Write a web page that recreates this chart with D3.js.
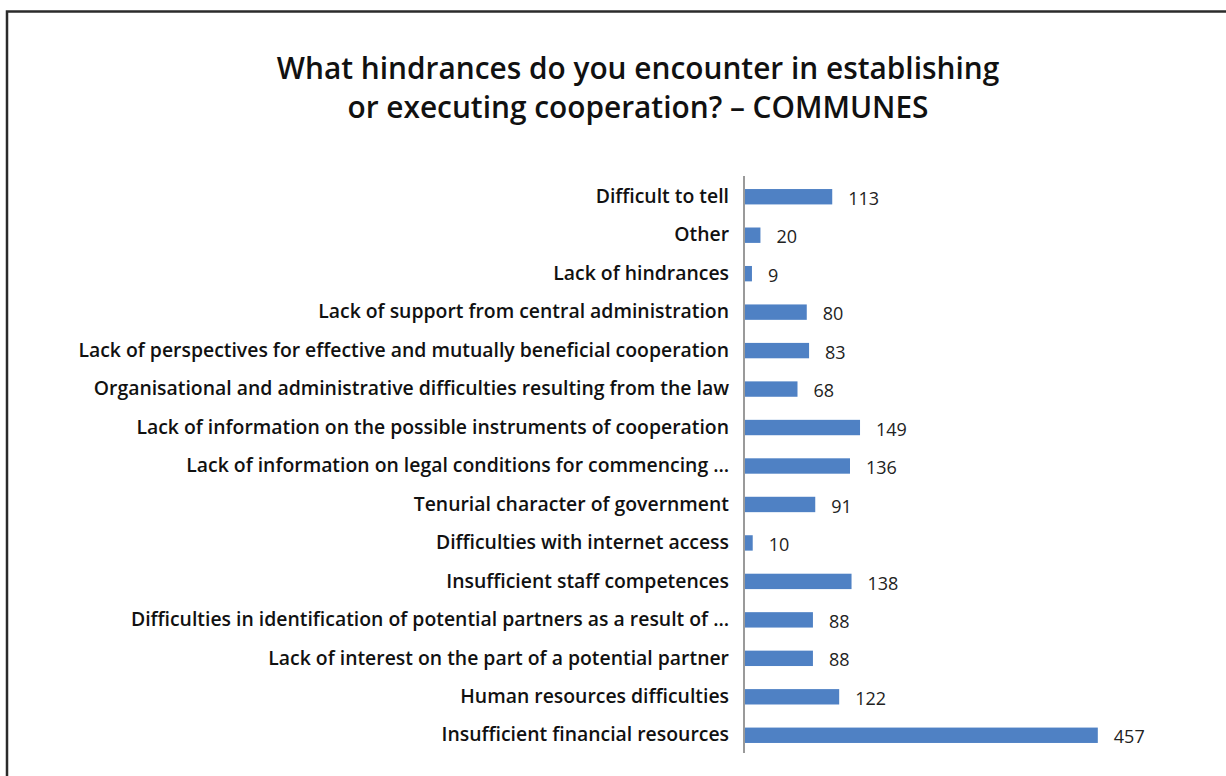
<!DOCTYPE html>
<html>
<head>
<meta charset="utf-8">
<script src="https://cdn.jsdelivr.net/npm/d3@7"></script>
<style>
  html, body { margin: 0; padding: 0; background: #fff; }
  svg { display: block; }
</style>
</head>
<body>
<svg id="chart" width="1226" height="776"></svg>
<script>
// Survey answers, top to bottom as listed on the chart
const categories = [
  "Difficult to tell",
  "Other",
  "Lack of hindrances",
  "Lack of support from central administration",
  "Lack of perspectives for effective and mutually beneficial cooperation",
  "Organisational and administrative difficulties resulting from the law",
  "Lack of information on the possible instruments of cooperation",
  "Lack of information on legal conditions for commencing …",
  "Tenurial character of government",
  "Difficulties with internet access",
  "Insufficient staff competences",
  "Difficulties in identification of potential partners as a result of …",
  "Lack of interest on the part of a potential partner",
  "Human resources difficulties",
  "Insufficient financial resources"
];
const counts = [113, 20, 9, 80, 83, 68, 149, 136, 91, 10, 138, 88, 88, 122, 457];
const titleLines = [
  "What hindrances do you encounter in establishing",
  "or executing cooperation? – COMMUNES"
];

const svg = d3.select("#chart");
const FONT = "'Open Sans', 'Noto Sans', sans-serif";

// Frame: top and left rules
svg.append("path")
  .attr("d", "M7,1226 V11.5 H1226")
  .attr("fill", "none")
  .attr("stroke", "#2b2b2b")
  .attr("stroke-width", 2.5);

// Fit a font size so a text run spans a target width
function fitSize(text, weight, target, base) {
  const t = svg.append("text")
    .attr("font-family", FONT)
    .attr("font-weight", weight)
    .attr("font-size", base)
    .text(text);
  const w = t.node().getComputedTextLength();
  t.remove();
  return base * target / w;
}

// Title
const titleSize = fitSize(titleLines[0], 600, 723, 26);
svg.append("g")
  .selectAll("text")
  .data(titleLines)
  .join("text")
  .attr("x", 638)
  .attr("y", (d, i) => 79 + i * 39)
  .attr("text-anchor", "middle")
  .attr("font-family", FONT)
  .attr("font-weight", 600)
  .attr("font-size", titleSize)
  .attr("fill", "#111")
  .text(d => d);

// Scales
const x0 = 745;
const x = d3.scaleLinear().domain([0, 500]).range([x0, x0 + 386]);
const y = d3.scaleBand()
  .domain(categories)
  .range([177.5, 754.5])
  .paddingInner(0.6)
  .paddingOuter(0.3);

// Bars
svg.append("g")
  .selectAll("rect")
  .data(categories)
  .join("rect")
  .attr("x", x(0))
  .attr("y", d => y(d))
  .attr("width", (d, i) => x(counts[i]) - x(0))
  .attr("height", y.bandwidth())
  .attr("fill", "#4f81c4");

// Category axis (labels only, no ticks)
const labelSize = fitSize(categories[4], 600, 651, 18);
const yAxis = d3.axisLeft(y).tickSize(0).tickPadding(15);
const ga = svg.append("g")
  .attr("transform", `translate(${x0 - 1},0)`)
  .call(yAxis);
ga.select(".domain")
  .attr("d", "M0,176V753")
  .attr("stroke", "#9a9a9a")
  .attr("stroke-width", 2);
ga.selectAll("text")
  .attr("font-family", FONT)
  .attr("font-weight", 600)
  .attr("font-size", labelSize)
  .attr("fill", "#111");

// Value labels
svg.append("g")
  .selectAll("text")
  .data(categories)
  .join("text")
  .attr("x", (d, i) => x(counts[i]) + 16)
  .attr("y", d => y(d) + y.bandwidth() / 2)
  .attr("dy", "0.45em")
  .attr("font-family", FONT)
  .attr("font-size", 18)
  .attr("fill", "#222")
  .text((d, i) => counts[i]);
</script>
</body>
</html>
